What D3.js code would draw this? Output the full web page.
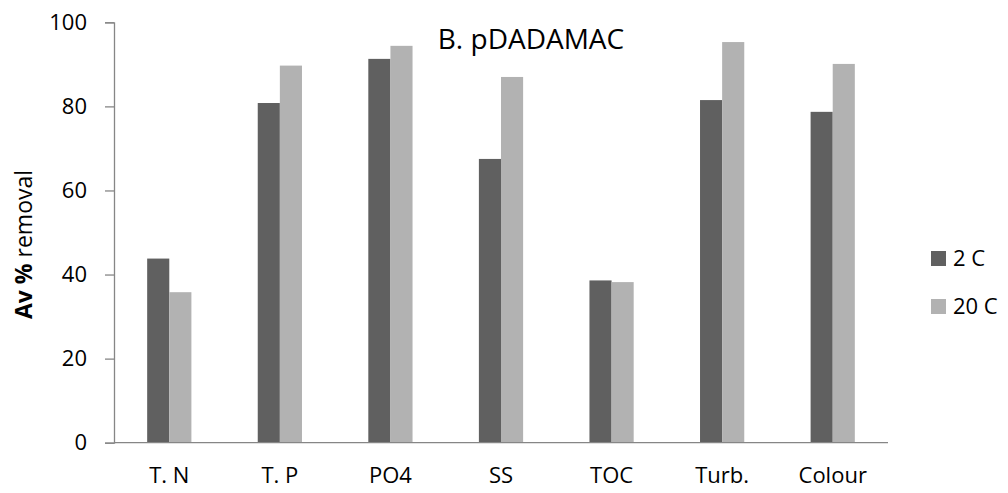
<!DOCTYPE html>
<html>
<head>
<meta charset="utf-8">
<script src="https://cdn.jsdelivr.net/npm/d3@7"></script>
<style>
  html, body { margin: 0; padding: 0; background: #fff; }
  svg { display: block; font-family: "Open Sans", "Liberation Sans", sans-serif; }
</style>
</head>
<body>
<svg id="chart" width="1008" height="493"></svg>
<script>
// Average % removal with pDADAMAC at two temperatures
const categories = ["T. N", "T. P", "PO4", "SS", "TOC", "Turb.", "Colour"];
const seriesNames = ["2 C", "20 C"];
const values2C  = [43.8, 80.8, 91.3, 67.5, 38.6, 81.5, 78.7];
const values20C = [35.8, 89.7, 94.4, 87.0, 38.2, 95.3, 90.1];
const yTicks = [0, 20, 40, 60, 80, 100];
const colors = ["#606060", "#b2b2b2"];

const svg = d3.select("#chart");
const plotLeft = 114, plotRight = 888, plotTop = 22.3, plotBottom = 442.7;
const fontSize = 22;

const x = d3.scaleBand().domain(categories).range([plotLeft, plotRight]).paddingInner(0.6).paddingOuter(0.3);
const xs = d3.scaleBand().domain(seriesNames).range([0, x.bandwidth()]);
const y = d3.scaleLinear().domain([0, 100]).range([plotBottom, plotTop]);

const seriesData = [values2C, values20C];

// bars
seriesNames.forEach((name, si) => {
  svg.append("g").selectAll("rect")
    .data(categories.map((c, i) => ({ c, v: seriesData[si][i] })))
    .join("rect")
    .attr("x", d => x(d.c) + xs(name))
    .attr("width", xs.bandwidth())
    .attr("y", d => y(d.v))
    .attr("height", d => y(0) - y(d.v))
    .attr("fill", colors[si]);
});

// y axis
const yAxis = svg.append("g")
  .attr("transform", `translate(${plotLeft},0)`)
  .call(d3.axisLeft(y).tickValues(yTicks).tickSize(9).tickPadding(18));
yAxis.select(".domain").attr("stroke", "#868686").attr("stroke-width", 1.3);
yAxis.selectAll(".tick line").attr("stroke", "#868686").attr("stroke-width", 1.3);
yAxis.selectAll(".tick text").attr("font-size", fontSize).attr("fill", "#000")
  .attr("font-family", "Open Sans, sans-serif");

// x axis
const xAxis = svg.append("g")
  .attr("transform", `translate(0,${plotBottom})`)
  .call(d3.axisBottom(x).tickSize(0).tickPadding(25));
xAxis.select(".domain").attr("stroke", "#868686").attr("stroke-width", 1.3)
  .attr("d", `M${plotLeft},0H${plotRight}`);
xAxis.selectAll(".tick text").attr("font-size", fontSize).attr("fill", "#000")
  .attr("font-family", "Open Sans, sans-serif");

// y axis title
const yt = svg.append("text")
  .attr("transform", "translate(32,244.5) rotate(-90)")
  .attr("text-anchor", "middle")
  .attr("font-size", 23)
  .attr("fill", "#000");
yt.append("tspan").attr("font-weight", "bold").text("Av %");
yt.append("tspan").text(" removal");

// title
svg.append("text")
  .attr("x", 531).attr("y", 49)
  .attr("text-anchor", "middle")
  .attr("font-size", 28)
  .attr("fill", "#000")
  .text("B. pDADAMAC");

// legend
const legend = svg.append("g").selectAll("g")
  .data(seriesNames)
  .join("g")
  .attr("transform", (d, i) => `translate(931,${251 + i * 48})`);
legend.append("rect").attr("width", 15).attr("height", 15)
  .attr("fill", (d, i) => colors[i]);
legend.append("text").attr("x", 22).attr("y", 15)
  .attr("font-size", fontSize).attr("fill", "#000").text(d => d);
</script>
</body>
</html>
